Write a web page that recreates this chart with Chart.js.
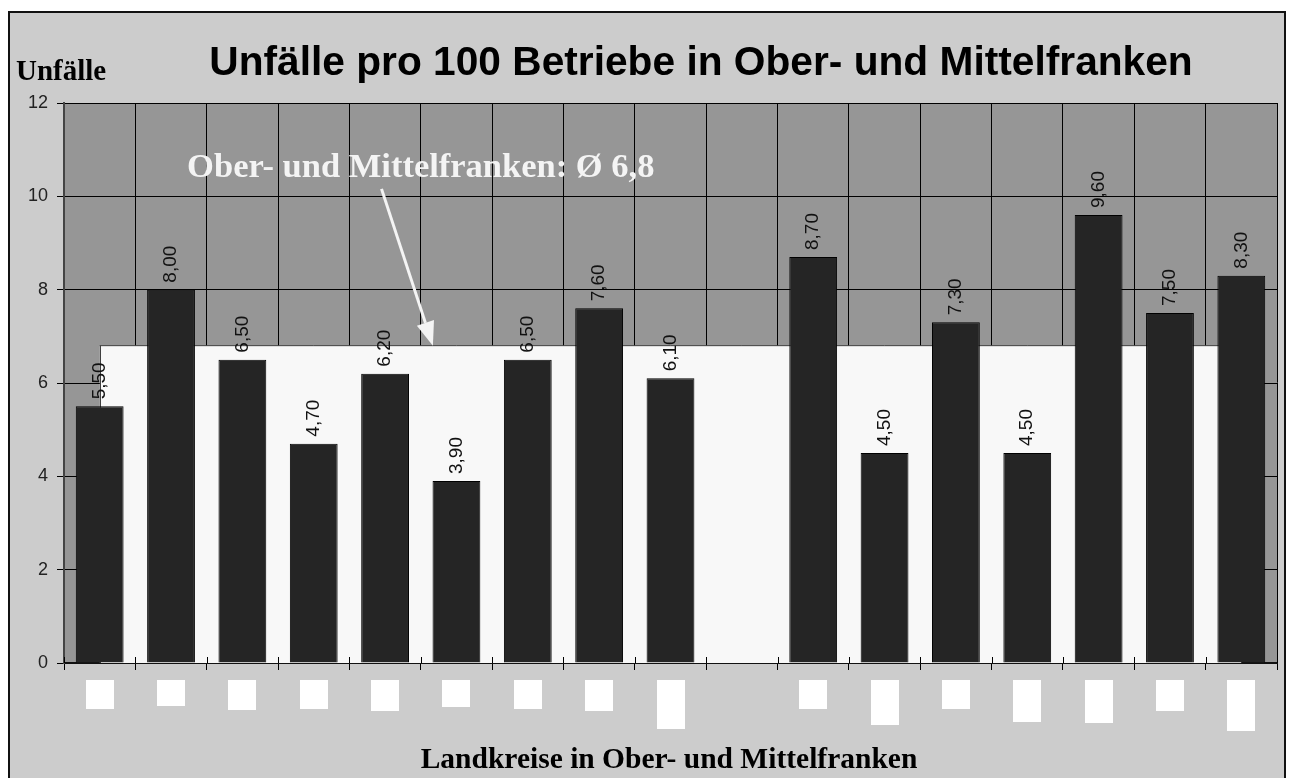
<!DOCTYPE html>
<html><head><meta charset="utf-8">
<script src="https://cdn.jsdelivr.net/npm/chart.js@4/dist/chart.umd.min.js"></script>
<style>html,body{margin:0;padding:0;background:#fff}</style>
</head><body>
<canvas id="c" width="1290" height="778"></canvas>
<script>
// ---- data ----
const categories = ['Landkreis 1','Landkreis 2','Landkreis 3','Landkreis 4','Landkreis 5','Landkreis 6','Landkreis 7','Landkreis 8','Landkreis 9','','Landkreis 10','Landkreis 11','Landkreis 12','Landkreis 13','Landkreis 14','Landkreis 15','Landkreis 16'];
const accidentsPer100 = [5.5, 8.0, 6.5, 4.7, 6.2, 3.9, 6.5, 7.6, 6.1, null, 8.7, 4.5, 7.3, 4.5, 9.6, 7.5, 8.3];
const averageSeries = [6.8, 6.8, 6.8, 6.8, 6.8, 6.8, 6.8, 6.8, 6.8, 6.8, 6.8, 6.8, 6.8, 6.8, 6.8, 6.8, 6.8];
const yTickValues = [0, 2, 4, 6, 8, 10, 12];
const titleText = 'Unfälle pro 100 Betriebe in Ober- und Mittelfranken';
const yAxisTitle = 'Unfälle';
const xAxisTitle = 'Landkreise in Ober- und Mittelfranken';
const averageNote = 'Ober- und Mittelfranken: Ø 6,8';
// heights of the blanked (white) category label boxes
const labelBoxHeights = [29, 26, 30, 29, 31, 27, 29, 31, 49, 0, 29, 45, 29, 42, 43, 31, 51];

const fmt = v => v.toFixed(2).replace('.', ',');

const decorPlugin = {
  id: 'decor',
  beforeDraw(chart) {
    const ctx = chart.ctx, ca = chart.chartArea;
    ctx.save();
    ctx.fillStyle = '#ffffff';
    ctx.fillRect(0, 0, chart.width, chart.height);
    ctx.fillStyle = '#cccccc';
    ctx.fillRect(9, 12, 1276, 780);
    ctx.strokeStyle = '#111';
    ctx.lineWidth = 2;
    ctx.strokeRect(9, 12, 1276, 780);
    ctx.fillStyle = '#969696';
    ctx.fillRect(ca.left, ca.top, ca.right - ca.left, ca.bottom - ca.top);
    ctx.restore();
  },
  afterDatasetDraw(chart, args) {
    if (args.index !== 1) return;
    const ctx = chart.ctx, pts = args.meta.data, y0 = chart.scales.y.getPixelForValue(0);
    ctx.save();
    ctx.strokeStyle = '#404040';
    ctx.lineWidth = 1;
    [pts[0], pts[pts.length - 1]].forEach(p => {
      ctx.beginPath();
      ctx.moveTo(Math.round(p.x) + 0.5, p.y);
      ctx.lineTo(Math.round(p.x) + 0.5, y0);
      ctx.stroke();
    });
    ctx.restore();
  },
  afterDatasetsDraw(chart) {
    const ctx = chart.ctx, xs = chart.scales.x, ys = chart.scales.y;
    const meta = chart.getDatasetMeta(0);
    ctx.save();
    // x tick marks crossing the axis
    ctx.strokeStyle = '#000';
    ctx.lineWidth = 1;
    const y0 = ys.getPixelForValue(0);
    for (let i = 0; i <= categories.length; i++) {
      const x = Math.round(xs.getPixelForValue(i - 0.5)) + 0.5;
      ctx.beginPath(); ctx.moveTo(x, y0 - 6); ctx.lineTo(x, y0); ctx.stroke();
    }
    // data labels
    ctx.fillStyle = '#111';
    ctx.font = '19px "Liberation Sans", Arial, sans-serif';
    ctx.textAlign = 'left';
    ctx.textBaseline = 'middle';
    meta.data.forEach((el, i) => {
      const v = accidentsPer100[i];
      if (v === null) return;
      ctx.save();
      ctx.translate(el.x, el.y - 7);
      ctx.rotate(-Math.PI / 2);
      ctx.fillText(fmt(v), 0, 0);
      ctx.restore();
    });
    ctx.restore();
  },
  afterDraw(chart) {
    const ctx = chart.ctx, xs = chart.scales.x, ys = chart.scales.y;
    ctx.save();
    // blanked label boxes
    ctx.fillStyle = '#ffffff';
    labelBoxHeights.forEach((h, i) => {
      if (!h) return;
      const x = xs.getPixelForValue(i);
      ctx.fillRect(Math.round(x - 14), xs.top + 17, 28, h);
    });
    // main title
    ctx.fillStyle = '#000';
    ctx.textBaseline = 'alphabetic';
    ctx.textAlign = 'center';
    ctx.font = 'bold 40.7px "Liberation Sans", Arial, sans-serif';
    ctx.fillText(titleText, 701, 75);
    // y axis title
    ctx.textAlign = 'left';
    ctx.font = 'bold 29px "Liberation Serif", "Times New Roman", serif';
    ctx.fillText(yAxisTitle, 16, 80);
    // x axis title
    ctx.textAlign = 'center';
    ctx.font = 'bold 29.5px "Liberation Serif", "Times New Roman", serif';
    ctx.fillText(xAxisTitle, 669, 768);
    // average annotation
    ctx.fillStyle = '#f4f4f4';
    ctx.font = 'bold 34.5px "Liberation Serif", "Times New Roman", serif';
    ctx.fillText(averageNote, xs.getPixelForValue(4.5), ys.getPixelForValue(10.41));
    // arrow
    const x1 = xs.getPixelForValue(3.95), y1 = ys.getPixelForValue(10.16);
    const x2 = xs.getPixelForValue(4.67), y2 = ys.getPixelForValue(6.8);
    const ang = Math.atan2(y2 - y1, x2 - x1), L = 24, W = 9;
    const bx = x2 - L * Math.cos(ang), by = y2 - L * Math.sin(ang);
    ctx.strokeStyle = '#f4f4f4';
    ctx.lineWidth = 3;
    ctx.beginPath(); ctx.moveTo(x1, y1); ctx.lineTo(bx, by); ctx.stroke();
    ctx.fillStyle = '#f4f4f4';
    ctx.beginPath();
    ctx.moveTo(x2, y2);
    ctx.lineTo(bx + W * Math.sin(ang), by - W * Math.cos(ang));
    ctx.lineTo(bx - W * Math.sin(ang), by + W * Math.cos(ang));
    ctx.closePath(); ctx.fill();
    ctx.restore();
  }
};

new Chart(document.getElementById('c'), {
  type: 'bar',
  data: {
    labels: categories,
    datasets: [
      {
        type: 'bar',
        label: 'Unfälle pro 100 Betriebe',
        data: accidentsPer100,
        backgroundColor: '#252525',
        borderColor: '#000',
        borderWidth: 1,
        barPercentage: 0.67,
        categoryPercentage: 1.0,
        order: 1
      },
      {
        type: 'line',
        label: 'Ø Ober- und Mittelfranken',
        data: averageSeries,
        backgroundColor: '#f8f8f8',
        borderColor: '#404040',
        borderWidth: 1,
        pointRadius: 0,
        fill: 'origin',
        tension: 0,
        order: 2
      }
    ]
  },
  options: {
    responsive: false,
    animation: false,
    layout: { padding: { left: 0, top: 103, right: 13, bottom: 0 } },
    plugins: { legend: { display: false }, title: { display: false }, tooltip: { enabled: false } },
    scales: {
      x: {
        offset: true,
        grid: { offset: true, color: '#000', lineWidth: 1, tickLength: 7, drawTicks: true },
        border: { color: '#111', width: 2 },
        ticks: { display: false },
        afterFit: s => { s.height = 115; }
      },
      y: {
        min: 0, max: 12,
        afterBuildTicks: s => { s.ticks = yTickValues.map(v => ({ value: v })); },
        grid: { color: '#000', lineWidth: 1, tickLength: 7 },
        border: { color: '#444', width: 2 },
        ticks: { color: '#222', padding: 9, font: { family: '"Liberation Sans", Arial, sans-serif', size: 18 } },
        afterFit: s => { s.width = 64; }
      }
    }
  },
  plugins: [decorPlugin]
});
</script>
</body></html>
